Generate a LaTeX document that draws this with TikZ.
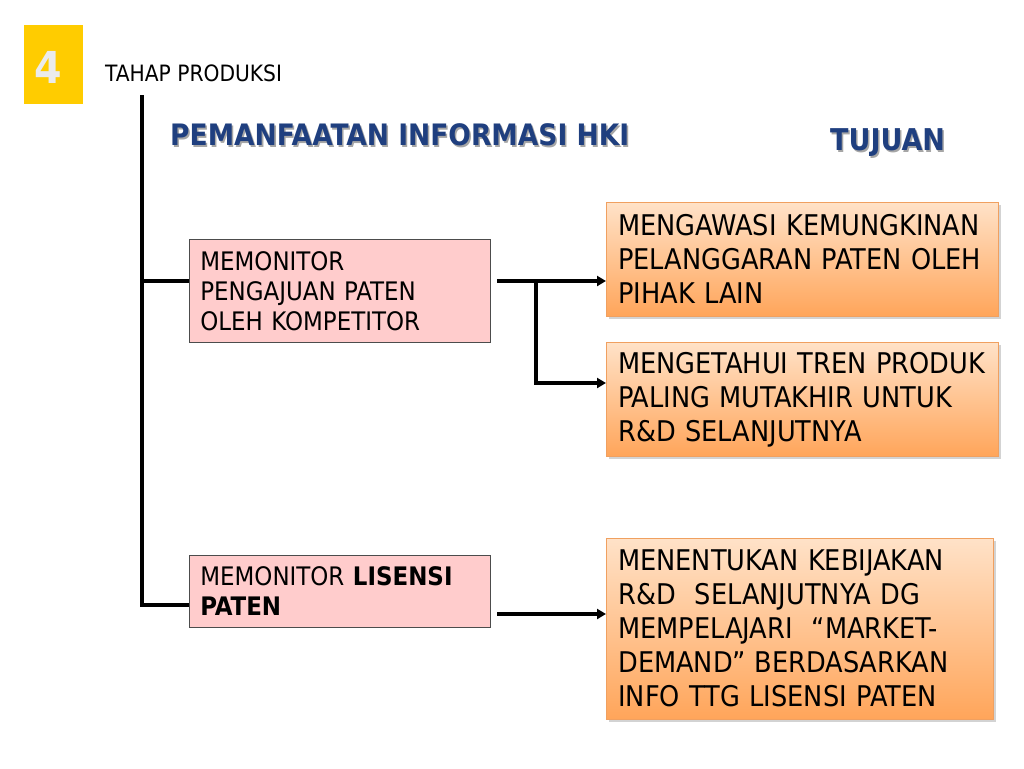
\documentclass[tikz,border=0pt]{standalone}
\usepackage{fontspec}
\setmainfont{DejaVu Sans Condensed}
\usetikzlibrary{arrows.meta,shadows,calc}
\definecolor{numyellow}{HTML}{FFCC00}
\definecolor{titleblue}{HTML}{1F3F7F}
\definecolor{pinkfill}{HTML}{FFCCCC}
\definecolor{peachtop}{HTML}{FFE2C8}
\definecolor{peachbot}{HTML}{FFA55A}
\definecolor{peachline}{HTML}{F0A060}
\tikzset{
  srcbox/.style={draw=black!70, line width=0.8pt, fill=pinkfill, minimum width=301pt,
    text width=279pt, align=left, inner xsep=11pt, inner ysep=0pt, font=\fontsize{25.5}{30}\selectfont},
  goalbox/.style={draw=peachline, line width=0.6pt, top color=peachtop, bottom color=peachbot,
    minimum width=392pt, text width=368pt, align=left, inner xsep=12pt, inner ysep=0pt,
    drop shadow={shadow xshift=2.5pt, shadow yshift=-3pt, opacity=0.35},
    font=\fontsize{28.5}{34}\selectfont},
  conn/.style={line width=3.5pt},
  arr/.style={line width=3.5pt, -{Triangle[length=9pt,width=10pt]}},
  ttl/.style={font=\fontsize{29.5}{32}\bfseries\selectfont, anchor=west, inner sep=0pt},
}
\begin{document}
\begin{tikzpicture}[x=1pt,y=-1pt]
\useasboundingbox (0,0) rectangle (1024,768);
% number square
\node[fill=numyellow, minimum width=59pt, minimum height=79pt, inner sep=0pt, anchor=north west] (num) at (24,25) {};
\node[text=black!8, font=\fontsize{44}{44}\bfseries\selectfont, inner sep=0pt] (numtxt) at (48,67) {4};
\node[anchor=west, font=\fontsize{22.5}{24}\selectfont, inner sep=0pt] (stage) at (105,73) {TAHAP PRODUKSI};
% titles with shadow
\node[ttl, text=black!35] at (171.5,137) {PEMANFAATAN INFORMASI HKI};
\node[ttl, text=titleblue] (t-left) at (170,135) {PEMANFAATAN INFORMASI HKI};
\node[ttl, font=\fontsize{30}{32}\bfseries\selectfont, text=black!35] at (831.5,145) {TUJUAN};
\node[ttl, font=\fontsize{30}{32}\bfseries\selectfont, text=titleblue] (t-right) at (830,143) {TUJUAN};
% source boxes
\node[srcbox, minimum height=103pt, anchor=north west] (box1) at (189,239)
  {MEMONITOR\\PENGAJUAN PATEN\\OLEH KOMPETITOR};
\node[srcbox, minimum height=72pt, anchor=north west] (box2) at (189,555)
  {MEMONITOR \textbf{LISENSI}\\\textbf{PATEN}};
% goal boxes
\node[goalbox, minimum height=114pt, anchor=north west] (g1) at (606,202)
  {MENGAWASI KEMUNGKINAN\\PELANGGARAN PATEN OLEH\\PIHAK LAIN};
\node[goalbox, minimum height=114pt, anchor=north west] (g2) at (606,342)
  {MENGETAHUI TREN PRODUK\\PALING MUTAKHIR UNTUK\\R\&D SELANJUTNYA};
\node[goalbox, minimum width=387pt, text width=363pt, minimum height=181pt, anchor=north west] (g3) at (606,538)
  {MENENTUKAN KEBIJAKAN\\R\&D~ SELANJUTNYA DG\\MEMPELAJARI~ “MARKET-\\DEMAND” BERDASARKAN\\INFO TTG LISENSI PATEN};
% trunk
\coordinate (trtop) at (142,95);
\coordinate (tr1) at (142,281);
\coordinate (tr2) at (142,605);
\coordinate (a1) at (497,281);
\coordinate (j1) at (536,281);
\coordinate (j2) at (536,383);
\coordinate (a2) at (497,614);
\draw[conn] (trtop) -- (tr2) -- (box2.west |- tr2);
\draw[conn] (tr1) -- (box1.west |- tr1);
\draw[arr] (a1) -- (g1.west |- a1);
\draw[conn, line cap=rect] (j1) -- (j2);
\draw[arr] ([xshift=-1.75pt]j2) -- (g2.west |- j2);
\draw[arr] (a2) -- (g3.west |- a2);
\end{tikzpicture}
\end{document}
